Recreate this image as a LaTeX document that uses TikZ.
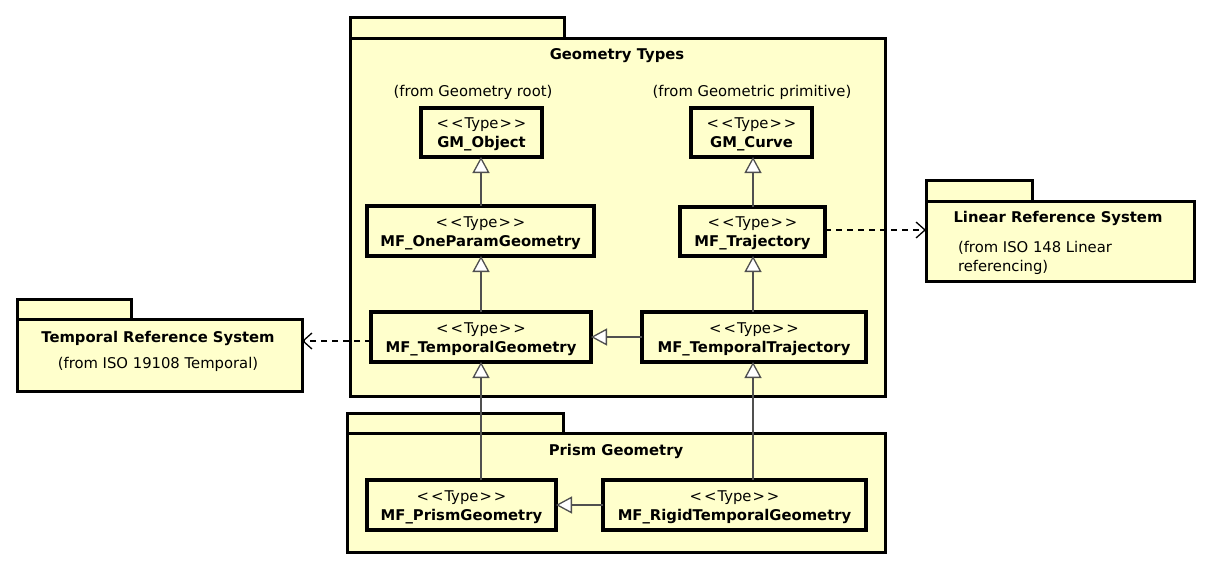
\documentclass[tikz,border=0pt]{standalone}
\usepackage{fontspec}
\setmainfont[Ligatures=NoCommon]{DejaVu Sans}
\usetikzlibrary{arrows.meta}
\definecolor{pkgfill}{RGB}{255,255,204}
\definecolor{conn}{RGB}{80,80,80}
\newcommand{\stype}{\rule{0pt}{15pt}\textless\kern2pt\textless\kern1pt Type\kern1pt\textgreater\kern2pt\textgreater}
\begin{document}
\begin{tikzpicture}[x=1pt,y=-1pt,
  every node/.style={inner sep=0pt, outer sep=0pt, font=\fontsize{14.8}{19}\selectfont},
  pkg/.style={draw=black, line width=3pt, fill=pkgfill},
  cls/.style={draw=black, line width=3.2pt, fill=pkgfill, align=center},
  title/.style={font=\fontsize{14.8}{19}\selectfont\bfseries},
  gen/.style={draw=conn, line width=1.4pt, -{Triangle[fill=white, length=16pt, width=17pt, line width=1.3pt]}},
  dep/.style={draw=black, line width=1.3pt, dash pattern=on 6pt off 5pt, -{Straight Barb[length=9pt, width=16pt]}}
]
\useasboundingbox (0,0) rectangle (1210,575);

% Geometry Types package
\node[pkg, anchor=south west, minimum width=214, minimum height=21] (GTtab) at (350,39) {};
\node[pkg, anchor=north west, minimum width=535, minimum height=357] (GT) at (350,39) {};
\node[title] (GTtitle) at (617,56) {Geometry Types};
\node (GTroot) at (473,92) {(from Geometry root)};
\node (GTprim) at (752,92) {(from Geometric primitive)};

% Prism Geometry package
\node[pkg, anchor=south west, minimum width=216, minimum height=20] (PGtab) at (347,433) {};
\node[pkg, anchor=north west, minimum width=538, minimum height=119] (PG) at (347,433) {};
\node[title] (PGtitle) at (616,451) {Prism Geometry};

% Temporal Reference System package
\node[pkg, anchor=south west, minimum width=114, minimum height=20] (TRtab) at (17,319) {};
\node[pkg, anchor=north west, minimum width=285, minimum height=72] (TR) at (17,319) {};
\node[title] (TRtitle) at (158,338) {Temporal Reference System};
\node (TRsub) at (158,364) {(from ISO 19108 Temporal)};

% Linear Reference System package
\node[pkg, anchor=south west, minimum width=106, minimum height=21] (LRtab) at (926,201) {};
\node[pkg, anchor=north west, minimum width=268, minimum height=80] (LR) at (926,201) {};
\node[title] (LRtitle) at (1058,218) {Linear Reference System};
\node[anchor=west, align=left] (LRsub) at (958,258) {(from ISO 148 Linear\\referencing)};

% Classes
\node[cls, minimum width=121, minimum height=49] (GMO) at (481.5,132.5) {\stype\\\textbf{GM\_Object}};
\node[cls, minimum width=121, minimum height=49] (GMC) at (751.5,132.5) {\stype\\\textbf{GM\_Curve}};
\node[cls, minimum width=227, minimum height=50] (OPG) at (480.5,231) {\stype\\\textbf{MF\_OneParamGeometry}};
\node[cls, minimum width=145, minimum height=49] (TRJ) at (752.5,231.5) {\stype\\\textbf{MF\_Trajectory}};
\node[cls, minimum width=220, minimum height=50] (TG) at (481,337) {\stype\\\textbf{MF\_TemporalGeometry}};
\node[cls, minimum width=224, minimum height=50] (TT) at (754,337) {\stype\\\textbf{MF\_TemporalTrajectory}};
\node[cls, minimum width=189, minimum height=50] (PR) at (461.5,505) {\stype\\\textbf{MF\_PrismGeometry}};
\node[cls, minimum width=263, minimum height=50] (RG) at (734.5,505) {\stype\\\textbf{MF\_RigidTemporalGeometry}};

\coordinate (xl) at (481,0);
\coordinate (xr) at (753,0);

% Generalizations
\draw[gen] (OPG.north -| xl) -- (GMO.south -| xl);
\draw[gen] (TRJ.north -| xr) -- (GMC.south -| xr);
\draw[gen] (TG.north -| xl) -- (OPG.south -| xl);
\draw[gen] (TT.north -| xr) -- (TRJ.south -| xr);
\draw[gen] (TT.west) -- (TG.east);
\draw[gen] (PR.north -| xl) -- (TG.south -| xl);
\draw[gen] (RG.north -| xr) -- (TT.south -| xr);
\draw[gen] (RG.west) -- (PR.east);

% Dependencies
\coordinate (yd1) at (0,230);
\coordinate (yd2) at (0,341);
\draw[dep] (TRJ.east |- yd1) -- (LR.west |- yd1);
\draw[dep] (TG.west |- yd2) -- (TR.east |- yd2);
\end{tikzpicture}
\end{document}
